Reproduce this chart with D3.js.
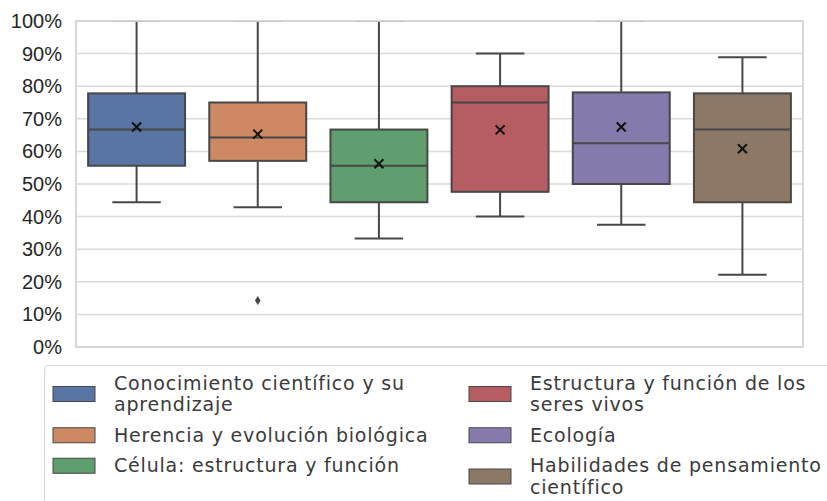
<!DOCTYPE html>
<html>
<head>
<meta charset="utf-8">
<script src="https://cdn.jsdelivr.net/npm/d3@7"></script>
<style>
  body { margin: 0; background: #fff; }
  svg { display: block; }
  .y-axis text { font-family: "Liberation Sans", Arial, sans-serif; font-size: 20px; fill: #262626; }
  .legend-label { font-family: "DejaVu Sans", sans-serif; font-size: 19px; letter-spacing: 0.8px; fill: #3a3a3a; }
</style>
</head>
<body>
<svg id="chart"></svg>
<script>
// Box plot summary per topic (percent correct)
const categories = [
  'Conocimiento científico y su\naprendizaje',
  'Herencia y evolución biológica',
  'Célula: estructura y función',
  'Estructura y función de los\nseres vivos',
  'Ecología',
  'Habilidades de pensamiento\ncientífico'
];
const whiskerLow  = [44.4, 42.9, 33.3, 40.0, 37.5, 22.2];
const q1          = [55.6, 57.1, 44.4, 47.6, 50.0, 44.4];
const medians     = [66.7, 64.3, 55.6, 75.0, 62.5, 66.7];
const q3          = [77.8, 75.0, 66.7, 80.0, 78.1, 77.8];
const whiskerHigh = [100, 100, 100, 90.0, 100, 88.9];
const means       = [67.5, 65.3, 56.2, 66.6, 67.5, 60.8];
const outliers    = [[], [14.3], [], [], [], []];
const yTicks = [0, 10, 20, 30, 40, 50, 60, 70, 80, 90, 100];
const colors = ['#5875a4', '#cc8963', '#5f9e6e', '#b55d60', '#857aab', '#8d7866'];

const width = 827, height = 501;
const margin = { top: 21, right: 24, bottom: 154, left: 76 };
const innerW = width - margin.left - margin.right;
const innerH = height - margin.top - margin.bottom;
const lineColor = '#474747';

const svg = d3.select('#chart').attr('width', width).attr('height', height);

const x = d3.scaleBand()
  .domain(categories)
  .range([0, innerW])
  .paddingInner(0.2)
  .paddingOuter(0.1);

const y = d3.scaleLinear()
  .domain([0, 100])
  .range([innerH, 0]);

const g = svg.append('g')
  .attr('transform', `translate(${margin.left},${margin.top})`);

// clip so whisker caps at 100% get cut by the frame like matplotlib
g.append('clipPath').attr('id', 'plot-clip')
  .append('rect').attr('width', innerW).attr('height', innerH);

// grid lines
g.append('g')
  .selectAll('line')
  .data(yTicks)
  .join('line')
  .attr('x1', 0).attr('x2', innerW)
  .attr('y1', d => y(d)).attr('y2', d => y(d))
  .attr('stroke', '#dadada')
  .attr('stroke-width', 1.5);

// y axis labels
const yAxis = g.append('g')
  .attr('class', 'y-axis')
  .call(d3.axisLeft(y).tickValues(yTicks).tickSize(0).tickPadding(14).tickFormat(d => d + '%'));
yAxis.select('.domain').remove();

const boxes = g.append('g').attr('clip-path', 'url(#plot-clip)');

categories.forEach((c, i) => {
  const x0 = x(c);
  const bw = x.bandwidth();
  const cx = x0 + bw / 2;
  const capW = bw / 2;
  const bg = boxes.append('g');

  // whiskers
  bg.append('line')
    .attr('x1', cx).attr('x2', cx)
    .attr('y1', y(q3[i])).attr('y2', y(whiskerHigh[i]))
    .attr('stroke', lineColor).attr('stroke-width', 2);
  bg.append('line')
    .attr('x1', cx).attr('x2', cx)
    .attr('y1', y(q1[i])).attr('y2', y(whiskerLow[i]))
    .attr('stroke', lineColor).attr('stroke-width', 2);

  // caps
  [whiskerLow[i], whiskerHigh[i]].forEach(v => {
    bg.append('line')
      .attr('x1', cx - capW / 2).attr('x2', cx + capW / 2)
      .attr('y1', y(v)).attr('y2', y(v))
      .attr('stroke', lineColor).attr('stroke-width', 2);
  });

  // box
  bg.append('rect')
    .attr('x', x0).attr('width', bw)
    .attr('y', y(q3[i])).attr('height', y(q1[i]) - y(q3[i]))
    .attr('fill', colors[i])
    .attr('stroke', lineColor).attr('stroke-width', 2);

  // median
  bg.append('line')
    .attr('x1', x0).attr('x2', x0 + bw)
    .attr('y1', y(medians[i])).attr('y2', y(medians[i]))
    .attr('stroke', lineColor).attr('stroke-width', 2);

  // mean marker
  const my = y(means[i]), s = 4.5;
  bg.append('path')
    .attr('d', `M${cx - s},${my - s}L${cx + s},${my + s}M${cx - s},${my + s}L${cx + s},${my - s}`)
    .attr('stroke', '#111').attr('stroke-width', 2).attr('fill', 'none');

  // outliers (diamonds)
  outliers[i].forEach(v => {
    const oy = y(v);
    bg.append('path')
      .attr('d', `M${cx},${oy - 4.5}L${cx + 2.8},${oy}L${cx},${oy + 4.5}L${cx - 2.8},${oy}Z`)
      .attr('fill', lineColor);
  });
});

// frame
g.append('rect')
  .attr('width', innerW).attr('height', innerH)
  .attr('fill', 'none')
  .attr('stroke', '#d4d4d4')
  .attr('stroke-width', 1.8);

// legend
const legend = svg.append('g');
legend.append('rect')
  .attr('x', 44.5).attr('y', 365.5)
  .attr('width', 820).attr('height', 160)
  .attr('rx', 4)
  .attr('fill', '#fff')
  .attr('stroke', '#d9d9d9')
  .attr('stroke-width', 1.2);

const lineH = 21.5, gap = 9;
const cols = [
  { patchX: 53, textX: 114, items: [0, 1, 2] },
  { patchX: 469, textX: 530, items: [3, 4, 5] }
];
cols.forEach(col => {
  let top = 372.5;
  col.items.forEach(i => {
    const lines = categories[i].split('\n');
    const h = lines.length * lineH;
    const center = top + h / 2;
    legend.append('rect')
      .attr('x', col.patchX).attr('y', center - 7.5)
      .attr('width', 42).attr('height', 15)
      .attr('fill', colors[i])
      .attr('stroke', lineColor).attr('stroke-width', 1);
    lines.forEach((ln, k) => {
      legend.append('text')
        .attr('class', 'legend-label')
        .attr('x', col.textX)
        .attr('y', top + lineH / 2 + k * lineH)
        .attr('dy', '0.35em')
        .text(ln);
    });
    top += h + gap;
  });
});
</script>
</body>
</html>
